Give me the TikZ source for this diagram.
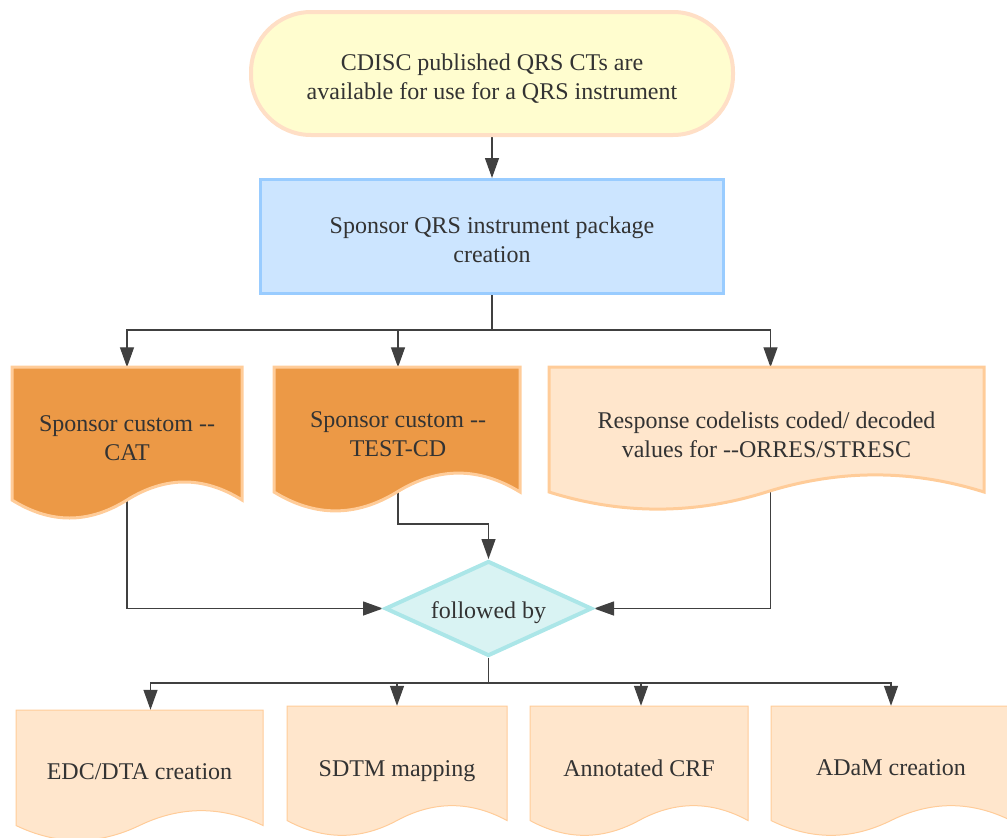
\documentclass[tikz,border=0pt]{standalone}
\usepackage{fontspec}
\setmainfont{Liberation Serif}[Ligatures=TeXOff]
\usetikzlibrary{arrows.meta,shapes.geometric,calc}
\pgfdeclarelayer{bg}
\pgfdeclarelayer{mid}
\pgfsetlayers{bg,mid,main}
\definecolor{textc}{HTML}{333333}
\definecolor{linec}{HTML}{404040}
\definecolor{termf}{HTML}{FFFDCF}
\definecolor{termb}{HTML}{FFDFC6}
\definecolor{pkgf}{HTML}{CCE5FF}
\definecolor{pkgb}{HTML}{99CCFF}
\definecolor{darkf}{HTML}{EC9946}
\definecolor{docb}{HTML}{FFCC99}
\definecolor{lightf}{HTML}{FFE6CC}
\definecolor{diaf}{HTML}{D9F3F3}
\definecolor{diab}{HTML}{ABE6E8}
\newcommand\docshape[6]{%
  \pgfmathsetmacro\dw{#4-#2}%
  \path[#1] (#2,#3) -- (#4,#3) -- (#4,{#5-0.5*#6})
    .. controls ({#4-\dw/6},{#5-1.1*#6}) and ({#2+2*\dw/3},{#5-1.1*#6}) .. ({#2+0.5*\dw},{#5-0.5*#6})
    .. controls ({#2+\dw/3},{#5+0.1*#6}) and ({#2+\dw/6},{#5+0.1*#6}) .. (#2,{#5-0.5*#6}) -- cycle;}
% lower content inside a centred node (extra height of #1 pt lowers it by half)
\newcommand\lowbox[2]{\raisebox{0pt}[\dimexpr\height+#1pt\relax][\depth]{#2}}
\begin{document}
\begin{tikzpicture}[x=1pt,y=-1pt,
  txt/.style={font=\fontsize{24}{29}\selectfont, text=textc, align=center, inner sep=0pt},
  conn/.style={draw=linec, line width=1.3pt, -{Triangle[length=20pt,width=14pt]}},
  darkdoc/.style={fill=darkf, draw=docb, line width=3pt},
  lightdoc/.style={fill=lightf, draw=docb, line width=3pt},
  thindoc/.style={fill=lightf, draw=docb, line width=1pt}]
\useasboundingbox (0,0) rectangle (1007,838);
% main nodes
\node[txt, draw=termb, fill=termf, line width=4pt, rounded corners=60pt,
  minimum width=482pt, minimum height=123pt] (term) at (492,73.5)
  {\lowbox{12}{\begin{tabular}{@{}c@{}}CDISC published QRS CTs are\\available for use for a QRS instrument\end{tabular}}};
\node[txt, draw=pkgb, fill=pkgf, line width=3pt, minimum width=463pt, minimum height=114pt]
  (pkg) at (492,236.5) {\lowbox{12}{\begin{tabular}{@{}c@{}}Sponsor QRS instrument package\\creation\end{tabular}}};
\node[txt, shape=diamond, draw=diab, fill=diaf, line width=4pt, aspect=3,
  minimum width=207pt, minimum height=95pt] (fb) at (488.5,608.5) {\lowbox{8}{followed by}};
% document nodes (text)
\node[txt, minimum width=230pt, minimum height=142pt] (cat) at (127,438.5) {Sponsor custom --\\CAT};
\node[txt, minimum width=246pt, minimum height=134pt] (tcd) at (398,434.5) {Sponsor custom --\\TEST-CD};
\node[txt, minimum width=435pt, minimum height=134pt] (rc) at (766.5,434.5) {Response codelists coded/ decoded\\values for --ORRES/STRESC};
\node[txt, minimum width=247pt, minimum height=124pt] (edc) at (139.5,772) {EDC/DTA creation};
\node[txt, minimum width=220pt, minimum height=124pt] (sd) at (397,768) {\lowbox{6}{SDTM mapping}};
\node[txt, minimum width=218pt, minimum height=124pt] (ac) at (639,768) {Annotated CRF};
\node[txt, minimum width=240pt, minimum height=124pt] (ad) at (891,768) {ADaM creation};
% document shapes
\begin{pgfonlayer}{mid}
\docshape{darkdoc}{12}{367}{242}{520}{40}
\docshape{darkdoc}{274}{367}{520}{513}{42}
\docshape{lightdoc}{549}{367}{984}{511}{38}
\docshape{thindoc}{16}{710}{263}{842}{33}
\docshape{thindoc}{287}{706}{507}{837}{33}
\docshape{thindoc}{530}{706}{748}{837}{33}
\docshape{thindoc}{771}{706}{1011}{837}{33}
\end{pgfonlayer}
% connectors
\begin{pgfonlayer}{bg}
\draw[conn] (term.south) -- (pkg.north);
\draw[conn] (pkg.south) -- ++(0,35) -| (cat.north);
\draw[conn] (pkg.south) -- ++(0,35) -| (tcd.north);
\draw[conn] (pkg.south) -- ++(0,35) -| ([xshift=4pt]rc.north);
\draw[conn] (cat.center) |- (fb.west);
\draw[conn] (tcd.center) |- ($(fb.north)+(0,-35)$) -- (fb.north);
\draw[conn] ([xshift=4pt]rc.center) |- (fb.east);
\draw[conn] (fb.south) -- ++(0,25) -| ([xshift=11pt]edc.north);
\draw[conn] (fb.south) -- ++(0,25) -| (sd.north);
\draw[conn] (fb.south) -- ++(0,25) -| ([xshift=2pt]ac.north);
\draw[conn] (fb.south) -- ++(0,25) -| (ad.north);
\end{pgfonlayer}
\end{tikzpicture}
\end{document}
